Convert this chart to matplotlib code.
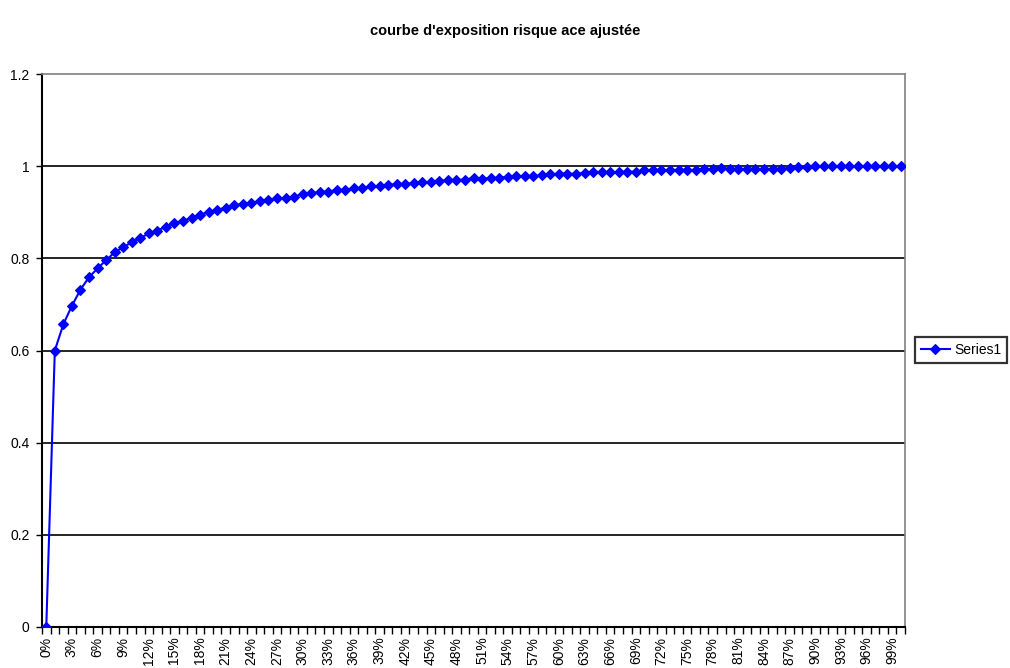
import matplotlib
matplotlib.use("Agg")
import matplotlib.pyplot as plt
import numpy as np

plt.rcParams['font.family'] = ['Liberation Sans', 'DejaVu Sans']

# Exposure percentages (0% .. 100%) and adjusted exposure curve values
pct = list(range(0, 101))
values = [
    0.000, 0.600, 0.657, 0.697, 0.732, 0.759, 0.778, 0.796, 0.813, 0.824,
    0.835, 0.844, 0.854, 0.860, 0.869, 0.876, 0.882, 0.887, 0.895, 0.900,
    0.905, 0.910, 0.915, 0.918, 0.921, 0.924, 0.927, 0.930, 0.931, 0.934,
    0.939, 0.941, 0.944, 0.945, 0.948, 0.949, 0.952, 0.953, 0.956, 0.957,
    0.959, 0.961, 0.961, 0.964, 0.965, 0.966, 0.968, 0.969, 0.970, 0.971,
    0.974, 0.973, 0.974, 0.975, 0.977, 0.978, 0.978, 0.978, 0.981, 0.982,
    0.984, 0.984, 0.983, 0.986, 0.987, 0.987, 0.987, 0.987, 0.988, 0.988,
    0.991, 0.991, 0.991, 0.991, 0.991, 0.991, 0.991, 0.993, 0.993, 0.995,
    0.994, 0.994, 0.994, 0.994, 0.994, 0.994, 0.994, 0.996, 0.998, 0.998,
    1.000, 1.000, 1.000, 1.000, 1.000, 1.000, 1.000, 1.000, 1.000, 1.000,
    1.000,
]
x_labels = [f"{p}%" for p in pct]
y_ticks = [0, 0.2, 0.4, 0.6, 0.8, 1, 1.2]
y_tick_labels = ["0", "0.2", "0.4", "0.6", "0.8", "1", "1.2"]

fig = plt.figure(figsize=(10.10, 6.68), dpi=100)
ax = fig.add_axes([42 / 1010, 1 - 627 / 668, (905 - 42) / 1010, (627 - 74) / 668])

xs = np.arange(len(pct))
line, = ax.plot(xs, values, color="#0000FF", lw=1.5, marker="D", ms=5,
                markeredgewidth=0.8, label="Series1", zorder=3)

ax.set_xlim(-0.5, len(pct) - 0.5)
ax.set_ylim(0, 1.2)

# Horizontal major gridlines
for yv in y_ticks[1:-1]:
    ax.axhline(yv, color="black", lw=1.2, zorder=1)

ax.set_yticks(y_ticks)
ax.set_yticklabels(y_tick_labels, fontsize=10)
ax.tick_params(axis="y", direction="out", length=4, width=1, pad=5)

# Category axis: tick marks between categories, labels every third category
ax.set_xticks(np.arange(-0.5, len(pct), 1.0), minor=True)
ax.set_xticks(xs[::3])
ax.set_xticklabels(x_labels[::3], rotation=90, fontsize=10)
ax.tick_params(axis="x", which="major", length=0, pad=7)
ax.tick_params(axis="x", which="minor", direction="out", length=5, width=1)

for side in ("top", "right"):
    ax.spines[side].set_color("#808080")
    ax.spines[side].set_linewidth(1.2)
for side in ("left", "bottom"):
    ax.spines[side].set_color("black")
    ax.spines[side].set_linewidth(1.5)

fig.text(0.5, 1 - 31 / 668, "courbe d'exposition risque ace ajustée",
         ha="center", va="center", fontsize=10.5, fontweight="bold")

leg = fig.legend(handles=[line], loc="center left",
                 bbox_to_anchor=(915 / 1010, 1 - 350 / 668),
                 fontsize=10, frameon=True, fancybox=False,
                 handlelength=2.1, borderpad=0.4, handletextpad=0.35,
                 borderaxespad=0)
leg.get_frame().set_edgecolor("black")
leg.get_frame().set_linewidth(1.6)

fig.savefig("out.png", dpi=100)
